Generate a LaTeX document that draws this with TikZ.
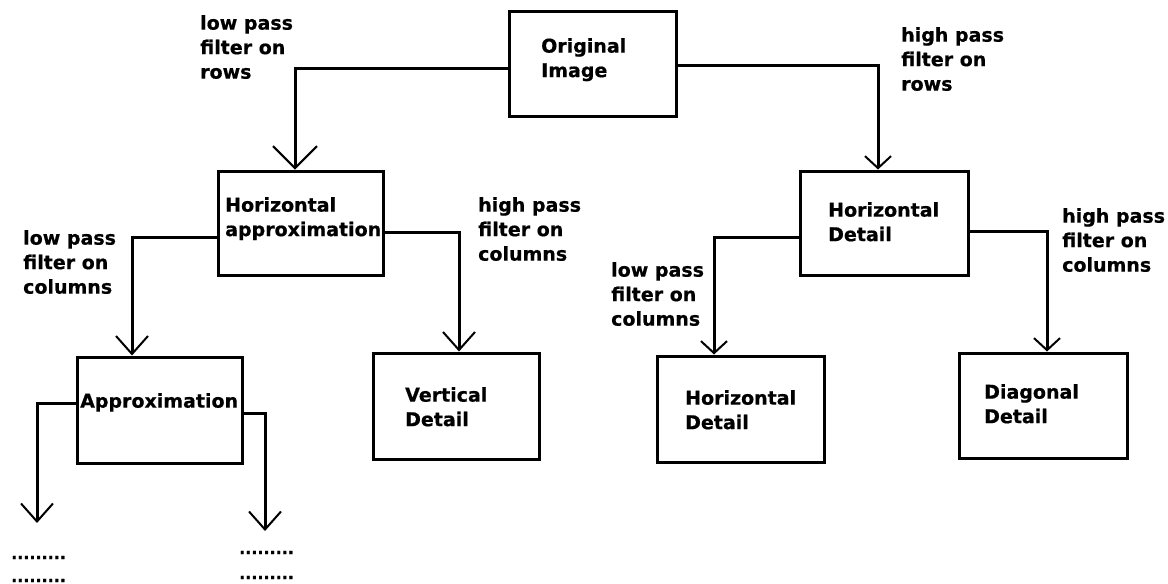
\documentclass[tikz,border=0pt]{standalone}
\usepackage{fontspec}
\setmainfont{DejaVu Sans}[BoldFeatures={FakeBold=0.6}]
\usetikzlibrary{arrows.meta}
\begin{document}
\begin{tikzpicture}[x=1pt,y=-1pt,
  box/.style={draw, line width=3pt, inner sep=0pt, rectangle},
  lbl/.style={anchor=north west, align=left, inner sep=0pt, font=\fontsize{19}{24.5}\selectfont\bfseries},
  dots/.style={anchor=base west, inner sep=0pt, font=\fontsize{16}{16}\selectfont\bfseries},
  conn/.style={line width=3pt},
  bigtip/.style={-{Straight Barb[length=22pt,width=44pt,line width=2pt]}},
  midtip/.style={-{Straight Barb[length=18pt,width=32pt,line width=2pt]}},
  smalltip/.style={-{Straight Barb[length=12pt,width=26pt,line width=2pt]}},
]
\useasboundingbox (0,0) rectangle (1168,584);
% boxes
\node[box, minimum width=167pt, minimum height=105pt] (orig) at (592.5,63.5) {};
\node[box, minimum width=165pt, minimum height=104pt] (ha)   at (300.5,223) {};
\node[box, minimum width=168pt, minimum height=104pt] (hd)   at (884,223) {};
\node[box, minimum width=165pt, minimum height=106pt] (ap)   at (159.5,410) {};
\node[box, minimum width=166pt, minimum height=106pt] (vd)   at (456,406) {};
\node[box, minimum width=167pt, minimum height=106pt] (hdb)  at (740.5,409) {};
\node[box, minimum width=168pt, minimum height=105pt] (dd)   at (1043,405.5) {};
% box texts
\node[lbl] (torig) at (541,38) {Original\\Image};
\node[lbl] (tha)   at (225,197) {Horizontal\\approximation};
\node[lbl] (thd)   at (828,202) {Horizontal\\Detail};
\node[lbl] (tap)   at (80,393) {Approximation};
\node[lbl] (tvd)   at (405,387) {Vertical\\Detail};
\node[lbl] (thdb)  at (685,390) {Horizontal\\Detail};
\node[lbl] (tdd)   at (984,384) {Diagonal\\Detail};
% filter labels
\node[lbl] (l1) at (200,15)  {low pass\\filter on\\rows};
\node[lbl] (l2) at (901,27)  {high pass\\filter on\\rows};
\node[lbl] (l3) at (478,197) {high pass\\filter on\\columns};
\node[lbl] (l4) at (23,230)  {low pass\\filter on\\columns};
\node[lbl] (l5) at (1062,208) {high pass\\filter on\\columns};
\node[lbl] (l6) at (611,262) {low pass\\filter on\\columns};
% dots
\node[dots] (d1) at (11,559) {.........};
\node[dots] (d2) at (11,582) {.........};
\node[dots] (d3) at (239,554) {.........};
\node[dots] (d4) at (239,579) {.........};
% free ends
\coordinate (endl) at (37,523);
\coordinate (endr) at (265,531);
% connectors
\draw[conn,bigtip]   ([yshift=-4.5pt]orig.west) -| ([xshift=-5.5pt]ha.north);
\draw[conn,smalltip] ([yshift=-1.5pt]orig.east) -| ([xshift=-6pt]hd.north);
\draw[conn,midtip]   ([yshift=-14pt]ha.west) -| ([xshift=-27.5pt]ap.north);
\draw[conn,midtip]   ([yshift=-9pt]ha.east) -| ([xshift=3pt]vd.north);
\draw[conn,smalltip] ([yshift=-14pt]hd.west) -| ([xshift=-26.5pt]hdb.north);
\draw[conn,smalltip] ([yshift=-8pt]hd.east) -| ([xshift=4pt]dd.north);
\draw[conn,midtip]   ([yshift=7pt]ap.west) -| (endl);
\draw[conn,midtip]   ([yshift=-3pt]ap.east) -| (endr);
\end{tikzpicture}
\end{document}
